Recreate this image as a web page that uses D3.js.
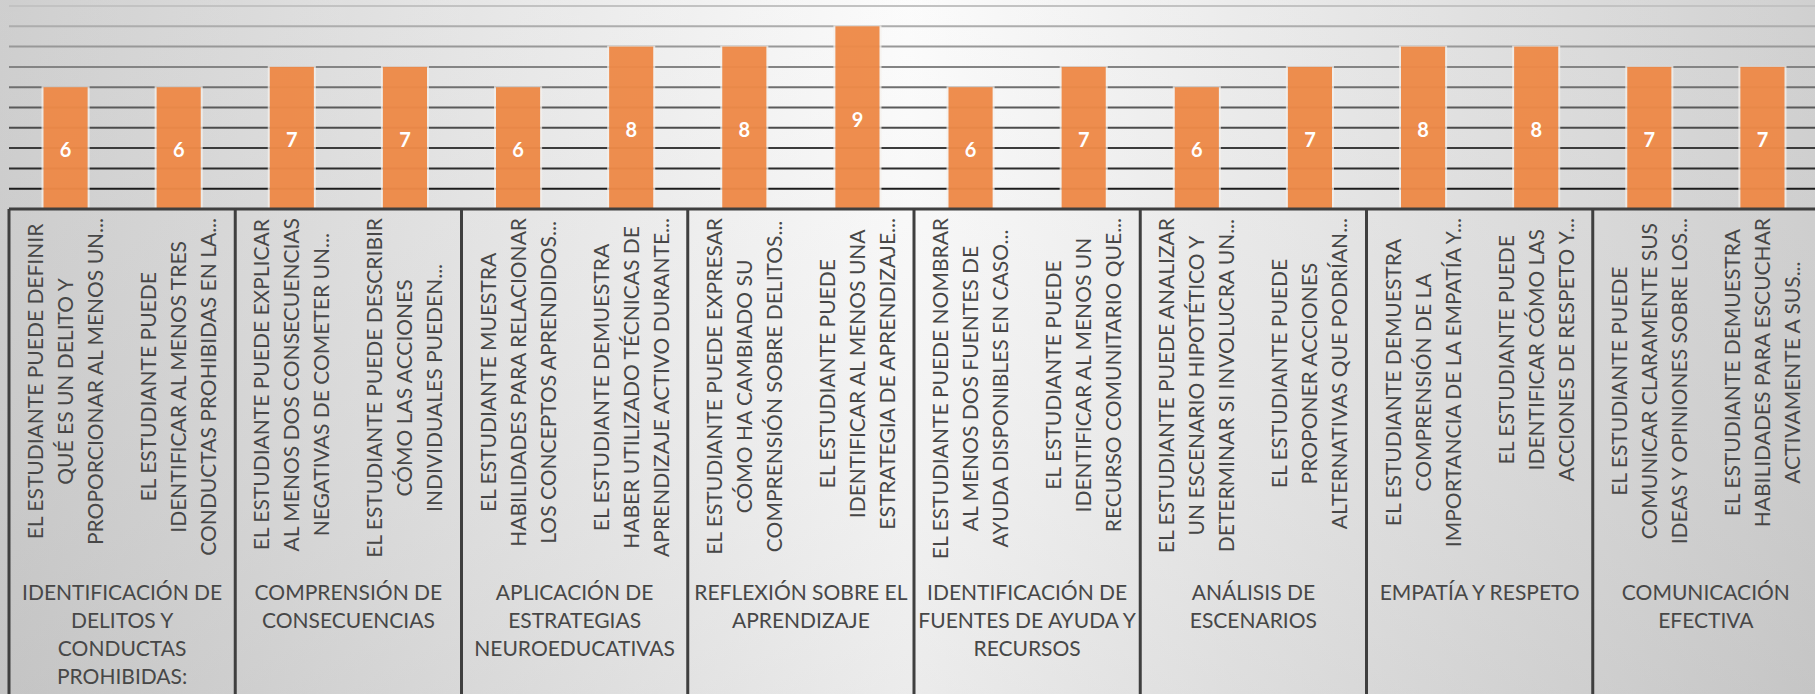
<!DOCTYPE html>
<html>
<head>
<meta charset="utf-8">
<script src="https://cdn.jsdelivr.net/npm/d3@7"></script>
<style>
  html, body { margin: 0; padding: 0; overflow: hidden; }
  svg { display: block; font-family: Lato, "Open Sans", sans-serif; }
</style>
</head>
<body>
<svg id="chart" width="1815" height="694"></svg>
<script>
// values per indicator
const values = [6, 6, 7, 7, 6, 8, 8, 9, 6, 7, 6, 7, 8, 8, 7, 7];

// indicator labels (as they wrap in the original, already truncated)
const items = [
  ["EL ESTUDIANTE PUEDE DEFINIR", "QUÉ ES UN DELITO Y", "PROPORCIONAR AL MENOS UN..."],
  ["EL ESTUDIANTE PUEDE", "IDENTIFICAR AL MENOS TRES", "CONDUCTAS PROHIBIDAS EN LA..."],
  ["EL ESTUDIANTE PUEDE EXPLICAR", "AL MENOS DOS CONSECUENCIAS", "NEGATIVAS DE COMETER UN..."],
  ["EL ESTUDIANTE PUEDE DESCRIBIR", "CÓMO LAS ACCIONES", "INDIVIDUALES PUEDEN..."],
  ["EL ESTUDIANTE MUESTRA", "HABILIDADES PARA RELACIONAR", "LOS CONCEPTOS APRENDIDOS..."],
  ["EL ESTUDIANTE DEMUESTRA", "HABER UTILIZADO TÉCNICAS DE", "APRENDIZAJE ACTIVO DURANTE..."],
  ["EL ESTUDIANTE PUEDE EXPRESAR", "CÓMO HA CAMBIADO SU", "COMPRENSIÓN SOBRE DELITOS..."],
  ["EL ESTUDIANTE PUEDE", "IDENTIFICAR AL MENOS UNA", "ESTRATEGIA DE APRENDIZAJE..."],
  ["EL ESTUDIANTE PUEDE NOMBRAR", "AL MENOS DOS FUENTES DE", "AYUDA DISPONIBLES EN CASO..."],
  ["EL ESTUDIANTE PUEDE", "IDENTIFICAR AL MENOS UN", "RECURSO COMUNITARIO QUE..."],
  ["EL ESTUDIANTE PUEDE ANALIZAR", "UN ESCENARIO HIPOTÉTICO Y", "DETERMINAR SI INVOLUCRA UN..."],
  ["EL ESTUDIANTE PUEDE", "PROPONER ACCIONES", "ALTERNATIVAS QUE PODRÍAN..."],
  ["EL ESTUDIANTE DEMUESTRA", "COMPRENSIÓN DE LA", "IMPORTANCIA DE LA EMPATÍA Y..."],
  ["EL ESTUDIANTE PUEDE", "IDENTIFICAR CÓMO LAS", "ACCIONES DE RESPETO Y..."],
  ["EL ESTUDIANTE PUEDE", "COMUNICAR CLARAMENTE SUS", "IDEAS Y OPINIONES SOBRE LOS..."],
  ["EL ESTUDIANTE DEMUESTRA", "HABILIDADES PARA ESCUCHAR", "ACTIVAMENTE A SUS..."]
];

// which group each indicator belongs to
const itemGroup = [0, 0, 1, 1, 2, 2, 3, 3, 4, 4, 5, 5, 6, 6, 7, 7];

// group (outer category) labels
const groups = [
  ["IDENTIFICACIÓN DE", "DELITOS Y", "CONDUCTAS", "PROHIBIDAS:"],
  ["COMPRENSIÓN DE", "CONSECUENCIAS"],
  ["APLICACIÓN DE", "ESTRATEGIAS", "NEUROEDUCATIVAS"],
  ["REFLEXIÓN SOBRE EL", "APRENDIZAJE"],
  ["IDENTIFICACIÓN DE", "FUENTES DE AYUDA Y", "RECURSOS"],
  ["ANÁLISIS DE", "ESCENARIOS"],
  ["EMPATÍA Y RESPETO"],
  ["COMUNICACIÓN", "EFECTIVA"]
];

const gridTicks = d3.range(0, 11);

const W = 1815, H = 694;
const plotL = 9, plotR = 1819, baseY = 209, topY = 6;
const fs = 21;

const svg = d3.select("#chart");

// background gradient
const defs = svg.append("defs");
const bg = defs.append("linearGradient").attr("id", "bg").attr("x1", 0).attr("x2", 1).attr("y1", 0).attr("y2", 0);
bg.append("stop").attr("offset", "0%").attr("stop-color", "#c6c6c6");
bg.append("stop").attr("offset", "50%").attr("stop-color", "#fbfbfb");
bg.append("stop").attr("offset", "100%").attr("stop-color", "#c8c8c8");
const shade = defs.append("linearGradient").attr("id", "shade").attr("x1", 0).attr("x2", 0).attr("y1", 0).attr("y2", 1);
shade.append("stop").attr("offset", "0%").attr("stop-color", "#ffffff").attr("stop-opacity", 0.15);
shade.append("stop").attr("offset", "100%").attr("stop-color", "#bdbdbd").attr("stop-opacity", 0.25);
svg.append("rect").attr("width", W).attr("height", H).attr("fill", "url(#bg)");
svg.append("rect").attr("width", W).attr("height", H).attr("fill", "url(#shade)");

const x = d3.scaleBand()
  .domain(d3.range(values.length))
  .range([plotL, plotR])
  .paddingInner(0.61)
  .paddingOuter(0.305);

const y = d3.scaleLinear().domain([0, 10]).range([baseY, topY]);

// gridlines, darker toward the bottom
const gridColor = d3.scaleLinear().domain([1, 5, 10]).range(["#1c1c1c", "#5a5a5a", "#c2c2c2"]);
svg.append("g")
  .selectAll("line")
  .data(gridTicks.filter(d => d > 0))
  .join("line")
  .attr("x1", plotL)
  .attr("x2", W)
  .attr("y1", d => y(d))
  .attr("y2", d => y(d))
  .attr("stroke", d => gridColor(d))
  .attr("stroke-width", 2);

// bars
const bars = svg.append("g");
bars.selectAll("rect.glow")
  .data(values)
  .join("rect")
  .attr("class", "glow")
  .attr("x", (d, i) => x(i) - 2)
  .attr("y", d => y(d) - 1)
  .attr("width", x.bandwidth() + 4)
  .attr("height", d => baseY - y(d) + 1)
  .attr("fill", "#f4f0ec")
  .attr("opacity", 0.75);
bars.selectAll("rect.bar")
  .data(values)
  .join("rect")
  .attr("class", "bar")
  .attr("x", (d, i) => x(i))
  .attr("y", d => y(d))
  .attr("width", x.bandwidth())
  .attr("height", d => baseY - y(d))
  .attr("fill", "#ec7d33")
  .attr("fill-opacity", 0.86);

// value labels
svg.append("g")
  .selectAll("text")
  .data(values)
  .join("text")
  .attr("x", (d, i) => x(i) + x.bandwidth() / 2)
  .attr("y", d => (y(d) + baseY) / 2 + 2 + 7)
  .attr("text-anchor", "middle")
  .attr("fill", "#ffffff")
  .attr("font-weight", "bold")
  .attr("font-size", 20)
  .text(d => d);

// category axis frame
const frame = svg.append("g").attr("stroke", "#3f3f3f");
frame.append("line")
  .attr("x1", plotL).attr("x2", W)
  .attr("y1", baseY).attr("y2", baseY)
  .attr("stroke-width", 3);
// group edges fall halfway between the last bar of a group and the next one
const groupEdges = d3.range(0, groups.length + 1).map(g => plotL + g * 2 * x.step());
frame.selectAll("line.div")
  .data(groupEdges)
  .join("line")
  .attr("class", "div")
  .attr("x1", d => d).attr("x2", d => d)
  .attr("y1", baseY).attr("y2", H)
  .attr("stroke-width", 3);

// indicator labels, rotated
const lineGap = 30;
const textTop = 218;
const itemG = svg.append("g")
  .attr("font-size", fs)
  .attr("fill", "#474747");
items.forEach((lines, i) => {
  const cx = x(i) + x.bandwidth() / 2;
  const g = itemG.append("g");
  const ts = g.selectAll("text")
    .data(lines)
    .join("text")
    .attr("text-anchor", "middle")
    .text(d => d);
  const maxLen = d3.max(ts.nodes(), n => n.getComputedTextLength());
  const cy = textTop + maxLen / 2;
  ts.attr("transform", (d, j) => {
    const lx = cx + (j - (lines.length - 1) / 2) * lineGap + fs * 0.36;
    return `translate(${lx},${cy}) rotate(-90)`;
  });
});

// group labels
const groupG = svg.append("g")
  .attr("font-size", fs)
  .attr("fill", "#474747")
  .attr("text-anchor", "middle");
groups.forEach((lines, g) => {
  const cx = (groupEdges[g] + groupEdges[g + 1]) / 2;
  groupG.append("g")
    .selectAll("text")
    .data(lines)
    .join("text")
    .attr("x", cx)
    .attr("y", (d, j) => 592 + j * 28.3 + fs * 0.36)
    .text(d => d);
});
</script>
</body>
</html>
